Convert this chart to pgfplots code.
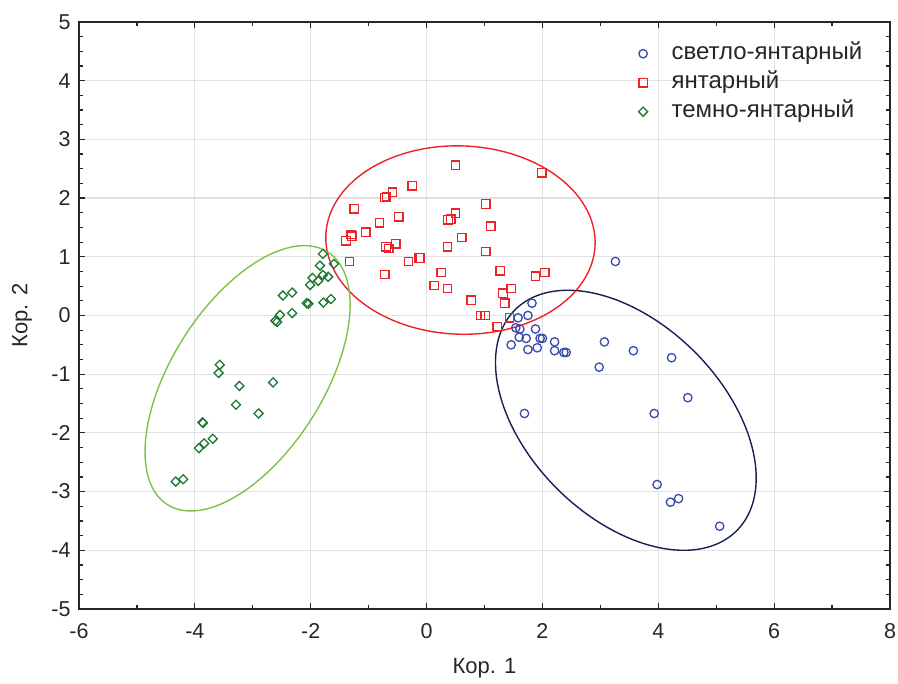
\documentclass[border=0pt]{standalone}
\usepackage{fontspec}
\setmainfont{Liberation Sans}
\usepackage{pgfplots}
\pgfplotsset{compat=1.18}
\definecolor{cblue}{RGB}{55,75,170}
\definecolor{cnavy}{RGB}{22,32,85}
\definecolor{cred}{RGB}{236,35,40}
\definecolor{cgreen}{RGB}{30,120,50}
\definecolor{clgreen}{RGB}{125,195,70}
\definecolor{cgrid}{RGB}{225,225,225}
\begin{document}
\begin{tikzpicture}
\begin{axis}[
  name=ax, at={(0,0)}, anchor=south west,
  scale only axis, width=811pt, height=587pt,
  xmin=-6, xmax=8, ymin=-5, ymax=5,
  xtick={-6,-4,...,8}, ytick={-5,-4,...,5},
  minor x tick num=1, minor y tick num=3,
  tick align=inside, major tick length=6pt, minor tick length=4pt,
  grid=major, major grid style={cgrid, line width=1.2pt},
  axis line style={line width=1.6pt, black!85},
  tick style={line width=1.2pt, black!85},
  /pgf/number format/assume math mode=true,
  ticklabel style={font=\fontsize{21.5}{25}\selectfont, text=black!85},
  xticklabel style={anchor=center, yshift=-22pt},
  yticklabel style={anchor=east, xshift=-5pt},
  xlabel={Кор. 1}, ylabel={Кор. 2},
  label style={font=\fontsize{22}{26}\selectfont, text=black!85},
  xlabel style={at={(axis description cs:0.5,-0.1005)}, anchor=center},
  ylabel style={at={(axis description cs:-0.0703,0.5)}, anchor=center},
  legend style={draw=none, fill=none, at={(axis cs:3.605,4.71)}, anchor=north west,
    font=\fontsize{24}{28}\selectfont, row sep=4pt,
    /tikz/every odd column/.append style={column sep=22pt},
    nodes={inner sep=2pt, text height=16pt, text depth=5pt, text=black!85}},
  legend cell align=left,
]
\addplot[cblue, only marks, mark=o, mark size=4.2pt, mark options={solid, draw=cblue, fill=none, line width=1.3pt}] table {
3.26 0.92
1.82 0.21
1.58 -0.04
1.75 0.00
1.54 -0.21
1.61 -0.23
1.88 -0.23
1.60 -0.37
1.72 -0.39
1.96 -0.39
2.00 -0.39
1.46 -0.50
1.75 -0.58
1.91 -0.55
2.21 -0.45
2.21 -0.60
2.37 -0.63
2.41 -0.63
3.07 -0.45
3.57 -0.60
4.23 -0.72
2.98 -0.88
4.51 -1.40
1.69 -1.67
3.93 -1.67
3.98 -2.88
4.35 -3.12
4.21 -3.18
5.06 -3.59
};
\addlegendentry{светло-янтарный}
\addplot[cred, only marks, mark=square, mark size=4.2pt, mark options={solid, draw=cred, fill=none, line width=1.3pt}] table {
0.50 2.56
1.99 2.43
-0.25 2.21
-0.59 2.10
-0.72 2.01
-0.69 2.02
-1.25 1.82
1.02 1.90
-0.48 1.68
-0.81 1.58
0.50 1.74
0.37 1.63
0.42 1.64
1.11 1.52
-1.05 1.42
-1.30 1.38
-1.29 1.35
-1.39 1.27
0.61 1.33
-0.53 1.22
-0.70 1.17
-0.65 1.14
0.36 1.17
1.02 1.09
-1.33 0.92
-0.31 0.92
-0.13 0.98
-0.11 0.98
-0.72 0.70
0.25 0.73
1.27 0.76
1.88 0.67
2.04 0.73
0.13 0.51
0.36 0.46
1.46 0.46
1.32 0.38
1.35 0.21
0.77 0.26
0.93 0.00
1.01 0.00
1.43 -0.04
1.22 -0.19
};
\addlegendentry{янтарный}
\addplot[cgreen, only marks, mark=square, mark size=3.2pt, mark options={solid, draw=cgreen, fill=none, line width=1.3pt, rotate=45}] table {
-1.79 1.05
-1.84 0.85
-1.60 0.88
-1.97 0.64
-1.79 0.69
-1.70 0.66
-1.87 0.59
-2.01 0.52
-2.48 0.34
-2.32 0.39
-2.07 0.21
-2.04 0.20
-1.78 0.22
-1.65 0.28
-2.32 0.04
-2.53 0.01
-2.61 -0.09
-2.58 -0.11
-3.57 -0.84
-3.59 -0.98
-3.23 -1.20
-2.65 -1.14
-3.29 -1.52
-2.90 -1.67
-3.87 -1.82
-3.86 -1.83
-3.69 -2.10
-3.84 -2.18
-3.93 -2.26
-4.20 -2.79
-4.33 -2.83
};
\addlegendentry{темно-янтарный}
\addplot[cnavy, line width=1.4pt, domain=0:360, samples=181, no marks, forget plot] ({3.44 - 1.0*cos(x) + 2.016*sin(x)}, {-1.785 + 2.215*cos(x)});
\addplot[cred, line width=1.4pt, domain=0:360, samples=181, no marks, forget plot] ({0.585 - 0.06*cos(x) + 2.324*sin(x)}, {1.285 + 1.605*cos(x)});
\addplot[clgreen, line width=1.4pt, domain=0:360, samples=181, no marks, forget plot] ({-3.09 + 0.98*cos(x) + 1.474*sin(x)}, {-1.07 + 2.26*cos(x)});
\end{axis}
\pgfresetboundingbox
\path[use as bounding box] (-79pt,-75pt) rectangle (819pt,609pt);
\end{tikzpicture}
\end{document}
